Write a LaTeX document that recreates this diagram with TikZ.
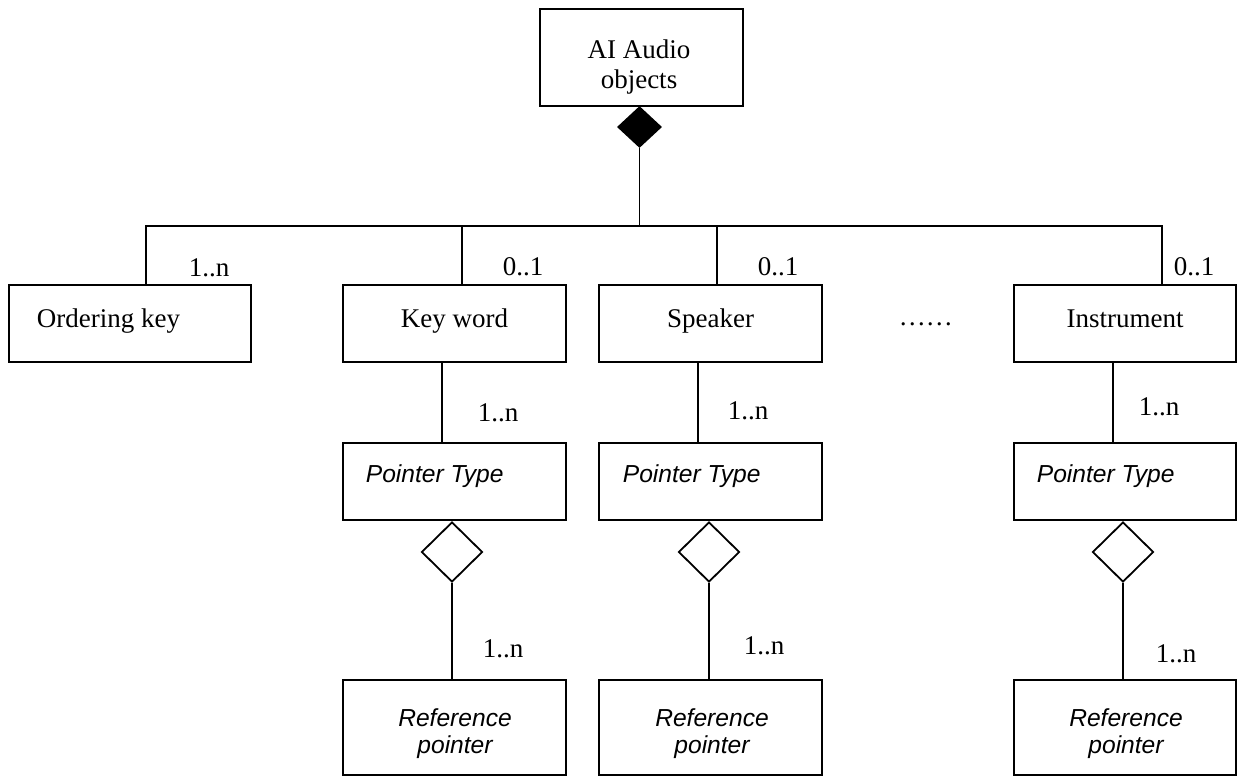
\documentclass[tikz,border=0pt]{standalone}
\usepackage{fontspec}
\setmainfont{Liberation Serif}
\newfontfamily\arialfont{Liberation Sans}
\usetikzlibrary{shapes.geometric}
\begin{document}
\begin{tikzpicture}[x=0.5pt,y=-0.5pt,
  line width=0.9pt,
  box/.style n args={2}{draw, rectangle, minimum width=#1*0.5pt, minimum height=#2*0.5pt, inner sep=0pt},
  lt/.style={font=\fontsize{13.5}{16}\selectfont, inner sep=0pt, anchor=base west},
  ct/.style={font=\fontsize{13.5}{16}\selectfont, inner sep=0pt, anchor=base},
  itl/.style={font=\arialfont\itshape\fontsize{12.3}{15}\selectfont, inner sep=0pt, anchor=base west},
  itc/.style={font=\arialfont\itshape\fontsize{12.3}{15}\selectfont, inner sep=0pt, anchor=base},
  mult/.style={font=\fontsize{13.5}{16}\selectfont, inner sep=0pt, anchor=base west},
  fdia/.style={draw, fill=black, diamond, minimum width=43*0.5pt, minimum height=40*0.5pt, inner sep=0pt},
  odia/.style={draw, fill=white, diamond, minimum width=61*0.5pt, minimum height=60*0.5pt, inner sep=0pt},
]
\useasboundingbox (0,0) rectangle (1237,776);

% top class
\node[box={203}{97}] (top) at (641.5,57.5) {};
\node[ct] (toptxtA) at (639,58) {AI Audio};
\node[ct] (toptxtB) at (639,88) {objects};
\node[fdia] (fd) at (639.5,127) {};

% first row
\node[box={242}{77}] (ord) at (130,323.5) {};
\node[lt] (ordtxt) at (36,327) {Ordering key};
\node[box={223}{77}] (kw) at (454.5,323.5) {};
\node[ct] (kwtxt) at (454.5,327) {Key word};
\node[box={223}{77}] (sp) at (710.5,323.5) {};
\node[ct] (sptxt) at (710.5,327) {Speaker};
\node[lt] (dots) at (898,325) {……};
\node[box={222}{77}] (in) at (1125,323.5) {};
\node[ct] (intxt) at (1125,327) {Instrument};

% pointer type row
\node[box={223}{77}] (ptA) at (454.5,481.5) {};
\node[itl] (ptAtxt) at (365,482) {Pointer Type};
\node[box={223}{77}] (ptB) at (710.5,481.5) {};
\node[itl] (ptBtxt) at (622,482) {Pointer Type};
\node[box={222}{77}] (ptC) at (1125,481.5) {};
\node[itl] (ptCtxt) at (1036,482) {Pointer Type};

% open diamonds
\node[odia] (odA) at (452,552) {};
\node[odia] (odB) at (709,552) {};
\node[odia] (odC) at (1123,552) {};

% reference pointer row
\node[box={223}{95}] (rfA) at (454.5,727.5) {};
\node[itc] (rfAa) at (455,726) {Reference};
\node[itc] (rfAb) at (455,753) {pointer};
\node[box={223}{95}] (rfB) at (710.5,727.5) {};
\node[itc] (rfBa) at (712,726) {Reference};
\node[itc] (rfBb) at (712,753) {pointer};
\node[box={222}{95}] (rfC) at (1125,727.5) {};
\node[itc] (rfCa) at (1126,726) {Reference};
\node[itc] (rfCb) at (1126,753) {pointer};

% composition tree
\coordinate (hub) at (639.5,226);
\coordinate (barL) at (146,226);
\coordinate (barR) at (1162,226);
\coordinate (jkw) at (462,226);
\coordinate (jsp) at (717,226);
\draw (fd.south) -- (hub);
\draw (barL |- ord.north) -- (barL) -- (barR) -- (barR |- in.north);
\draw (jkw) -- (jkw |- kw.north);
\draw (jsp) -- (jsp |- sp.north);

% row1 -> pointer type
\coordinate (dA) at (442,0);
\coordinate (dB) at (698,0);
\coordinate (dC) at (1113,0);
\draw (dA |- kw.south) -- (dA |- ptA.north);
\draw (dB |- sp.south) -- (dB |- ptB.north);
\draw (dC |- in.south) -- (dC |- ptC.north);

% diamonds -> reference pointer
\draw (odA.south) -- (odA.south |- rfA.north);
\draw (odB.south) -- (odB.south |- rfB.north);
\draw (odC.south) -- (odC.south |- rfC.north);

% multiplicities
\node[mult] (m1) at (188,276) {1..n};
\node[mult] (m2) at (502,275) {0..1};
\node[mult] (m3) at (757,275) {0..1};
\node[mult] (m4) at (1173,275) {0..1};
\node[mult] (m5) at (477,421) {1..n};
\node[mult] (m6) at (727,419) {1..n};
\node[mult] (m7) at (1138,415) {1..n};
\node[mult] (m8) at (482,657) {1..n};
\node[mult] (m9) at (743,654) {1..n};
\node[mult] (m10) at (1155,662) {1..n};
\end{tikzpicture}
\end{document}
